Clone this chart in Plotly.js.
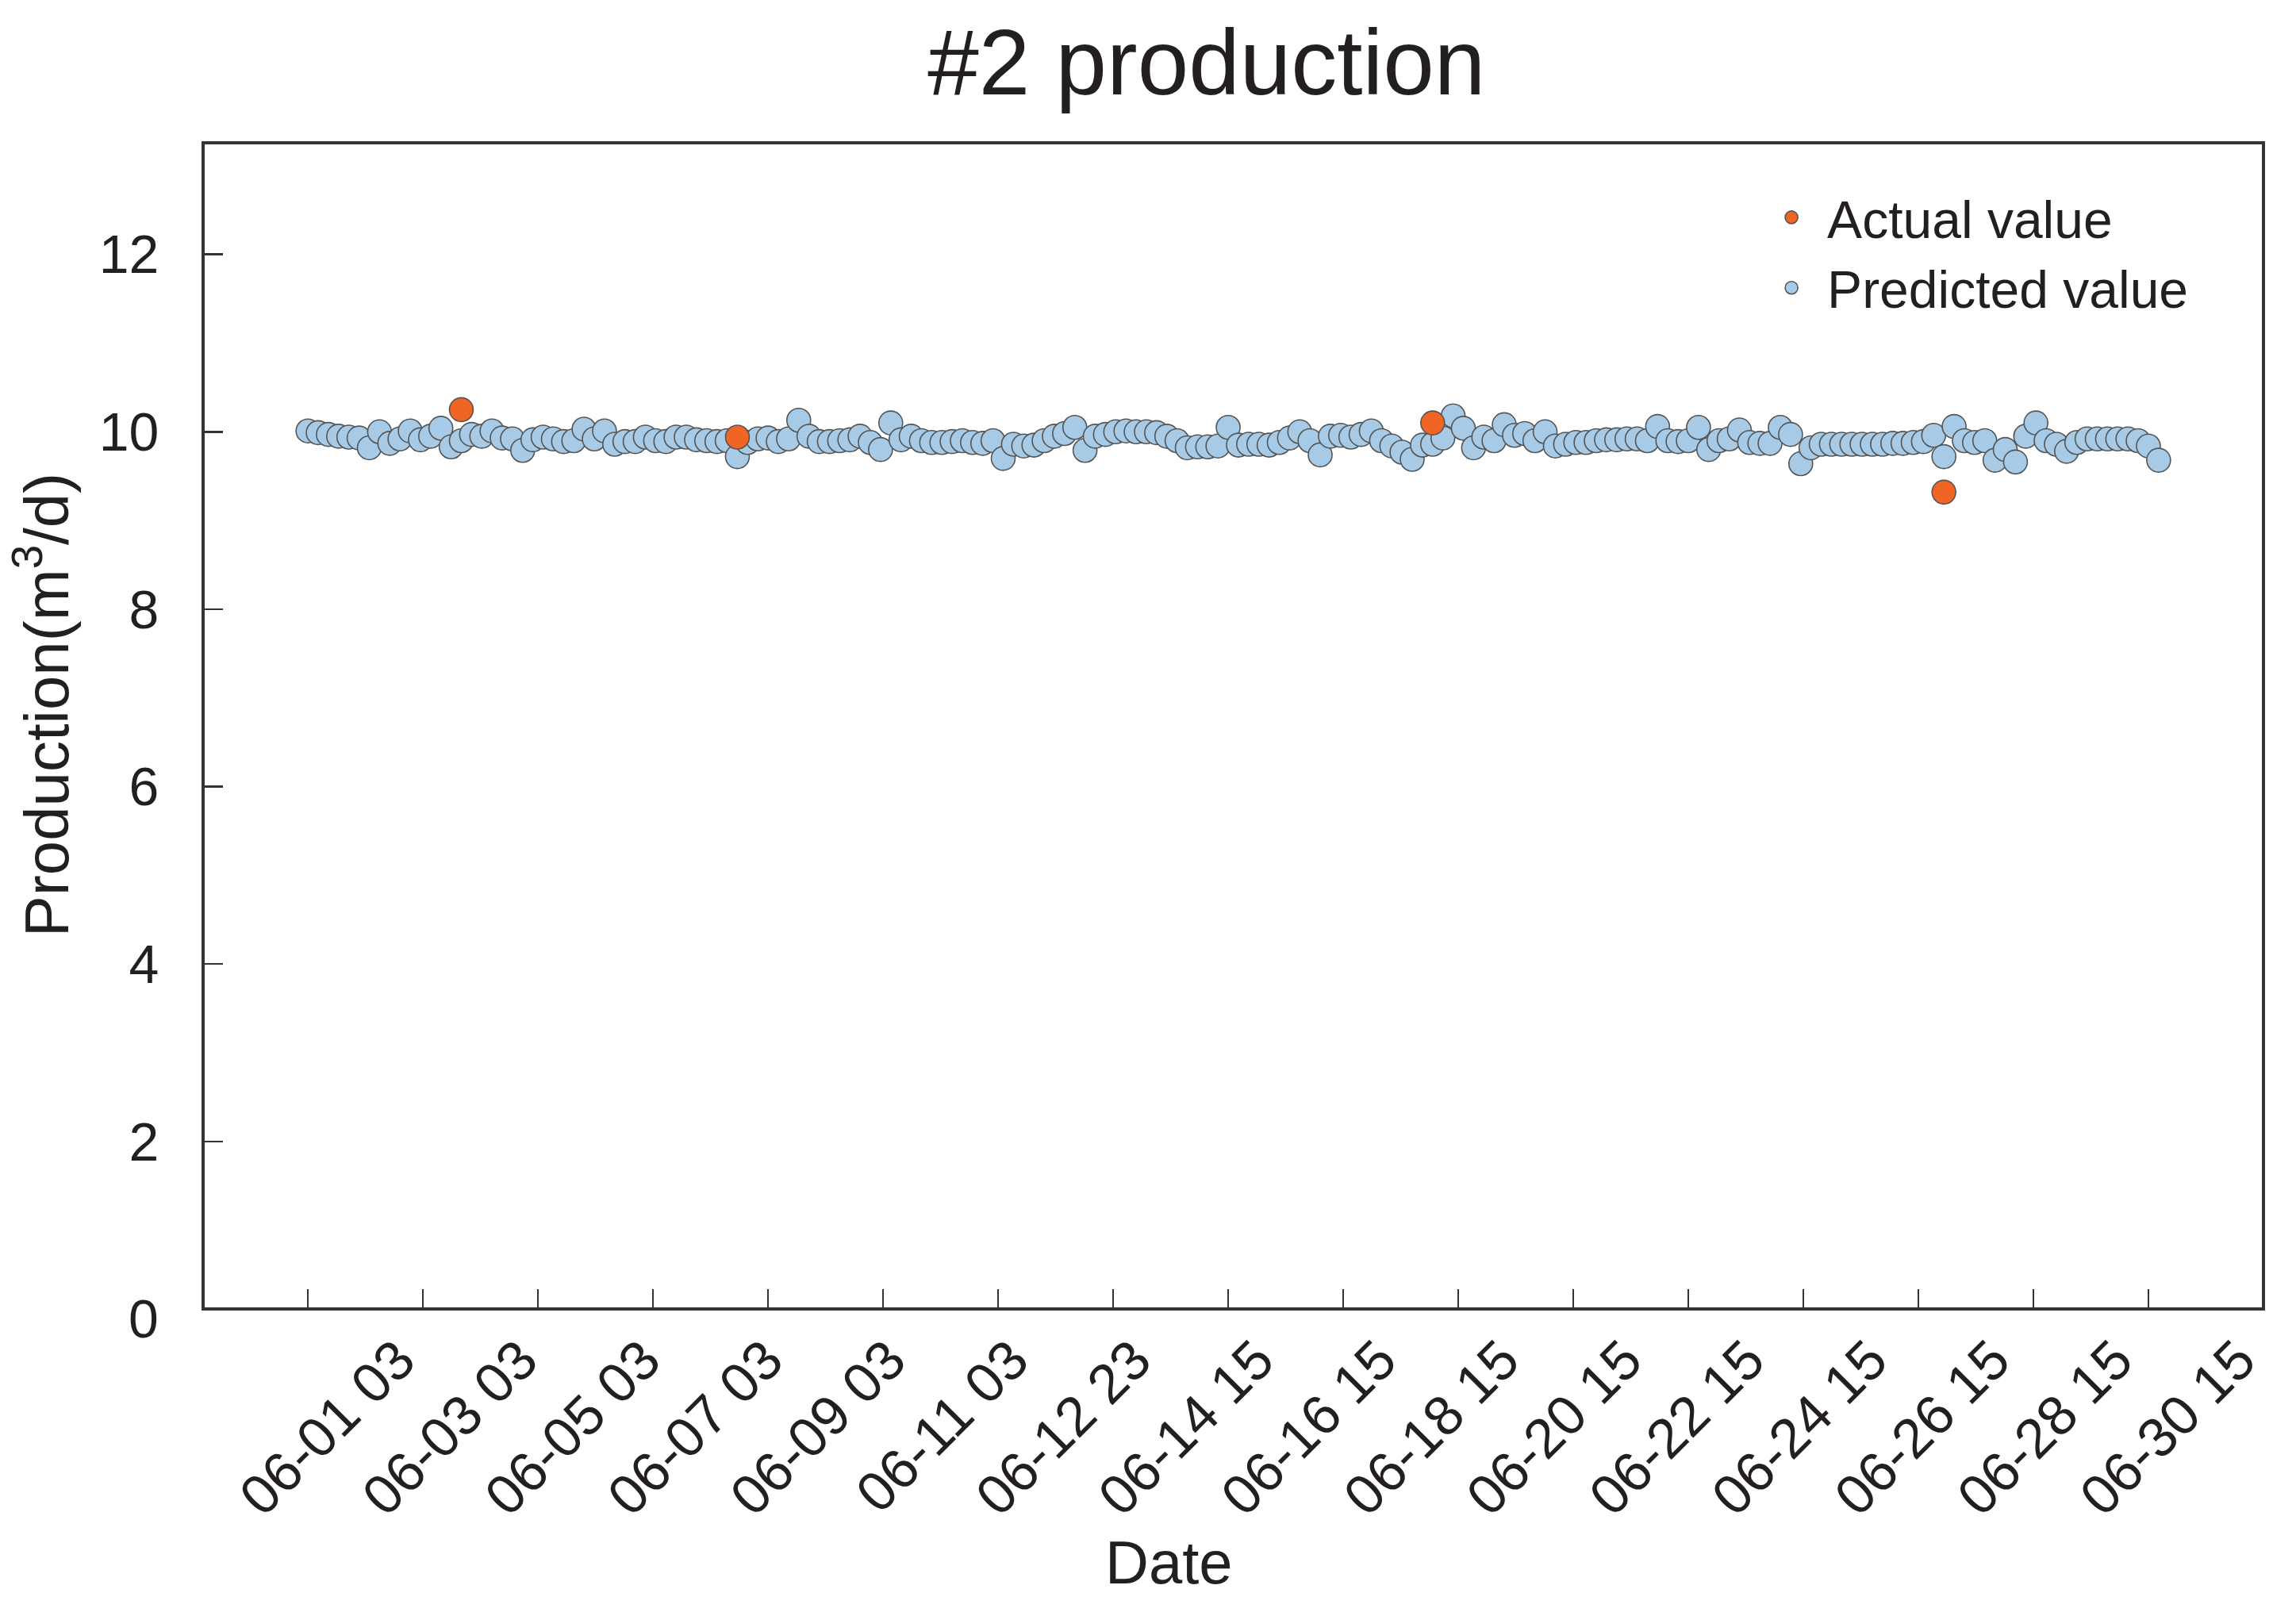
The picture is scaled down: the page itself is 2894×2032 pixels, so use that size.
<!DOCTYPE html>
<html>
<head>
<meta charset="utf-8">
<script src="https://cdn.plot.ly/plotly-3.0.1.min.js"></script>
<style>
  html, body { margin: 0; padding: 0; background: #fff; }
  #chart { width: 2894px; height: 2032px; }
</style>
</head>
<body>
<div id="chart"></div>
<script>
"use strict";

// predicted production, one value per sample (m3/d)
var predicted = [
  10.01, 9.99, 9.97, 9.95, 9.94, 9.93, 9.82, 10.0, 9.87, 9.92,
  10.01, 9.91, 9.95, 10.04, 9.83, 9.9, 9.97, 9.95, 10.01, 9.93,
  9.92, 9.79, 9.91, 9.94, 9.92, 9.89, 9.9, 10.03, 9.92, 10.01,
  9.86, 9.89, 9.89, 9.94, 9.9, 9.89, 9.94, 9.94, 9.91, 9.9,
  9.89, 9.9, 9.72, 9.88, 9.92, 9.93, 9.89, 9.92, 10.13, 9.95,
  9.89, 9.89, 9.9, 9.91, 9.95, 9.88, 9.8, 10.1, 9.91, 9.95,
  9.9, 9.88, 9.88, 9.89, 9.9, 9.88, 9.87, 9.9, 9.7, 9.86,
  9.84, 9.85, 9.9, 9.95, 9.98, 10.05, 9.79, 9.95, 9.97, 10.0,
  10.01, 10.0, 10.0, 9.99, 9.95, 9.9, 9.82, 9.83, 9.83, 9.84,
  10.05, 9.85, 9.86, 9.86, 9.85, 9.88, 9.93, 10.0, 9.9, 9.74,
  9.95, 9.96, 9.94, 9.97, 10.01, 9.9, 9.84, 9.77, 9.69, 9.85,
  9.86, 9.93, 10.18, 10.04, 9.82, 9.94, 9.9, 10.08, 9.96, 9.98,
  9.9,
  10.0, 9.84, 9.86, 9.88, 9.88, 9.9, 9.91, 9.91, 9.92, 9.92,
  9.9, 10.06, 9.9, 9.89, 9.9, 10.05, 9.8, 9.9, 9.92, 10.02,
  9.88, 9.87, 9.87, 10.05, 9.97, 9.64, 9.82, 9.86, 9.86, 9.86,
  9.86, 9.86, 9.86, 9.86, 9.87, 9.87, 9.88, 9.89, 9.96, 9.72,
  10.06, 9.9, 9.88, 9.9, 9.68, 9.8, 9.66, 9.95, 10.1, 9.9,
  9.86, 9.78, 9.88, 9.92, 9.92, 9.92, 9.92, 9.92, 9.9, 9.84,
  9.68
];

// measured values and the sample they belong to
var actualIdx = [15, 42, 110, 160];
var actualVals = [10.25, 9.94, 10.10, 9.32];

// date labels, one every 12 samples
var dateLabels = ["06-01 03", "06-03 03", "06-05 03", "06-07 03", "06-09 03", "06-11 03",
  "06-12 23", "06-14 15", "06-16 15", "06-18 15", "06-20 15", "06-22 15",
  "06-24 15", "06-26 15", "06-28 15", "06-30 15"];
var labelStep = 12;
var tickStep = 11.25;   // tick marks don't line up with labels in the original
var tickCount = 17;

var FONT = "Liberation Sans, Arial, sans-serif";
var INK = "#231f20";
var xRange = [-10.1, 191.1];
var yRange = [0.13, 13.24];

var sampleX = predicted.map(function (v, i) { return i; });
var tickPos = [];
for (var k = 0; k < tickCount; k++) tickPos.push(k * tickStep);
var labelPos = dateLabels.map(function (d, i) { return i * labelStep; });

var data = [{
  type: "scatter",
  mode: "markers",
  name: "Predicted value",
  x: sampleX,
  y: predicted,
  xaxis: "x",
  yaxis: "y",
  marker: { size: 30, color: "#a7cbe6", line: { color: "#555", width: 1.6 } }
}, {
  type: "scatter",
  mode: "markers",
  name: "Actual value",
  x: actualIdx,
  y: actualVals,
  xaxis: "x2",
  yaxis: "y",
  marker: { size: 30, color: "#f06424", line: { color: "#555", width: 1.6 } }
}];

var layout = {
  width: 2894,
  height: 2032,
  paper_bgcolor: "#fff",
  plot_bgcolor: "#fff",
  margin: { l: 258, r: 43, t: 182, b: 384 },
  font: { family: FONT, color: INK },
  title: {
    text: "#2 production",
    font: { size: 116, family: FONT, color: INK },
    xref: "paper", x: 0.487, xanchor: "center",
    yref: "container", y: 0.9616, yanchor: "middle"
  },
  xaxis: {
    range: xRange,
    tickmode: "array",
    tickvals: tickPos,
    showticklabels: false,
    ticks: "inside",
    ticklen: 23,
    tickwidth: 2.5,
    tickcolor: "#333",
    showline: true,
    linecolor: "#333",
    linewidth: 4,
    mirror: true,
    showgrid: false,
    zeroline: false
  },
  xaxis2: {
    overlaying: "x",
    side: "bottom",
    range: xRange,
    tickmode: "array",
    tickvals: labelPos,
    ticktext: dateLabels,
    ticks: "",
    showline: false,
    showgrid: false,
    zeroline: false,
    tickangle: -45,
    tickfont: { size: 70, family: FONT, color: INK },
    ticklabelshift: 114,
    ticklabelstandoff: 10
  },
  yaxis: {
    range: yRange,
    tickmode: "linear",
    tick0: 0,
    dtick: 2,
    ticks: "inside",
    ticklen: 23,
    tickwidth: 2.5,
    tickcolor: "#333",
    showline: true,
    linecolor: "#333",
    linewidth: 4,
    mirror: true,
    showgrid: false,
    zeroline: false,
    tickfont: { size: 68, family: FONT, color: INK },
    ticklabelstandoff: 40
  },
  showlegend: true,
  legend: {
    x: 0.754, xanchor: "left",
    y: 0.971, yanchor: "top",
    bgcolor: "rgba(0,0,0,0)",
    traceorder: "reversed",
    itemwidth: 80,
    font: { size: 66, family: FONT, color: INK }
  },
  annotations: [{
    // the 0 label sits just under the x axis line
    text: "0", showarrow: false,
    xref: "paper", x: -0.0216, xanchor: "right",
    yref: "paper", y: -0.0095, yanchor: "middle",
    font: { size: 68, family: FONT, color: INK }
  }, {
    text: "Date", showarrow: false,
    xref: "paper", x: 0.4686, xanchor: "center",
    yref: "paper", y: -0.2196, yanchor: "middle",
    font: { size: 76, family: FONT, color: INK }
  }, {
    text: "Production(m<sup>3</sup>/d)", showarrow: false, textangle: -90,
    xref: "paper", x: -0.079, xanchor: "center",
    yref: "paper", y: 0.5177, yanchor: "middle",
    font: { size: 78, family: FONT, color: INK }
  }]
};

Plotly.newPlot("chart", data, layout, { displayModeBar: false, staticPlot: true });
</script>
</body>
</html>
